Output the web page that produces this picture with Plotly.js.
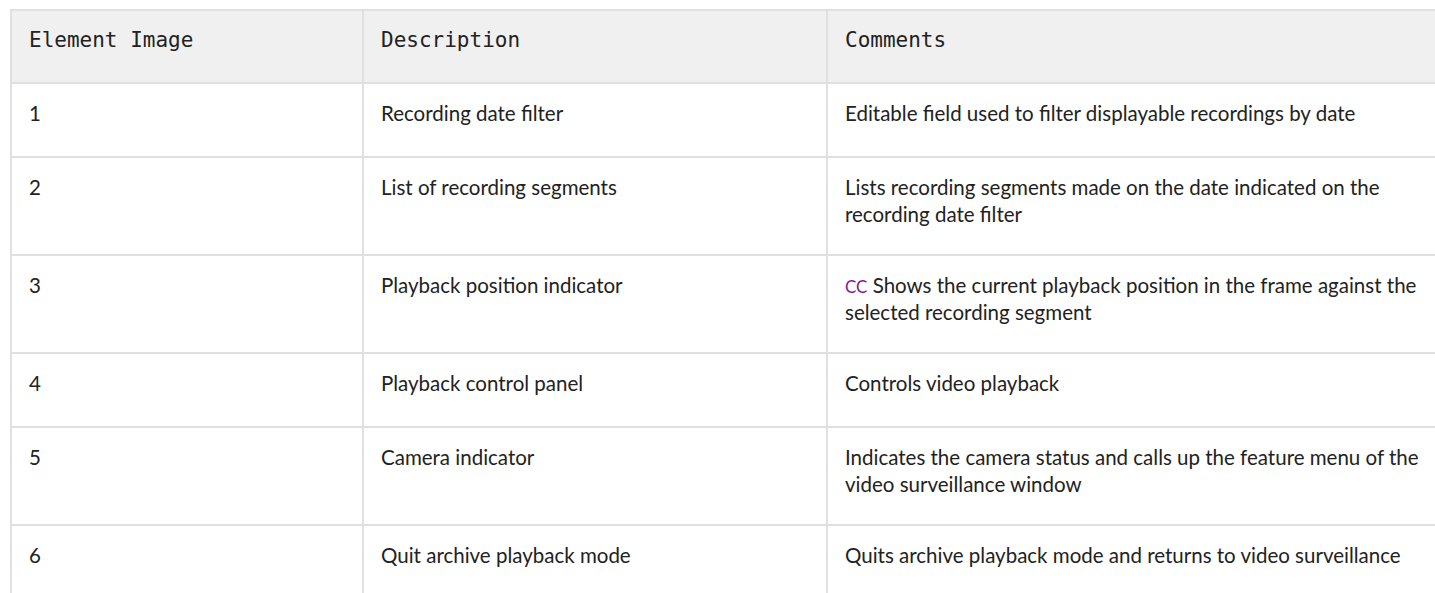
<!DOCTYPE html>
<html>
<head>
<meta charset="utf-8">
<script src="https://cdn.plot.ly/plotly-3.0.1.min.js"></script>
<style>
  html, body { margin: 0; padding: 0; overflow: hidden; background: #ffffff; }
  #chart { width: 1435px; height: 593px; }
</style>
</head>
<body>
<div id="chart"></div>
<script>
// ---- data ----
const headers = ['Element Image', 'Description', 'Comments'];
const elementNums = ['1', '2', '3', '4', '5', '6'];
const descriptions = [
  'Recording date filter',
  'List of recording segments',
  'Playback position indicator',
  'Playback control panel',
  'Camera indicator',
  'Quit archive playback mode'
];
const comments = [
  'Editable field used to filter displayable recordings by date',
  'Lists recording segments made on the date indicated on the<br>recording date filter',
  '<span style="color:#86198f;font-size:17px">CC</span> Shows the current playback position in the frame against the<br>selected recording segment',
  'Controls video playback',
  'Indicates the camera status and calls up the feature menu of the<br>video surveillance window',
  'Quits archive playback mode and returns to video surveillance'
];

// ---- styling / layout constants ----
const W = 1435, H = 593;
const tableLeft = 11, tableTop = 10;
const colWidths = [352, 464, 720];
const headerH = 73, baseRowH = 74, lineStep = 24;
const padX = 16, textTop = 16;
const headerFont = { family: 'DejaVu Sans Mono, monospace', size: 21, color: '#222222' };
const bodyFont = { family: 'Lato, Noto Sans, sans-serif', size: 20.5, color: '#222222' };
const borderColor = '#e0e0e0', headerFill = '#f0f0f0', cellFill = '#ffffff';

// column x positions
const colX = [tableLeft];
colWidths.forEach((w, i) => colX.push(colX[i] + w));

// rows
const columns = [elementNums, descriptions, comments];
const nLines = s => s.split('<br>').length;
const rowHeights = elementNums.map((_, r) => {
  const lines = Math.max(...columns.map(c => nLines(c[r])));
  return baseRowH + (lines - 1) * lineStep;
});
const rowY = [tableTop, tableTop + headerH];
rowHeights.forEach((h, i) => rowY.push(rowY[i + 1] + h));

const shapes = [];
const annotations = [];

function addCell(c, top, bottom, fill, text, font) {
  shapes.push({
    type: 'rect', xref: 'x', yref: 'y',
    x0: colX[c], x1: colX[c + 1], y0: top, y1: bottom,
    fillcolor: fill, line: { color: borderColor, width: 2 }, layer: 'below'
  });
  annotations.push({
    xref: 'x', yref: 'y', x: colX[c] + padX, y: top + textTop,
    xanchor: 'left', yanchor: 'top', align: 'left',
    text: text, showarrow: false, font: font
  });
}

headers.forEach((h, c) => addCell(c, rowY[0], rowY[1], headerFill, h, headerFont));
elementNums.forEach((_, r) => {
  columns.forEach((col, c) => addCell(c, rowY[r + 1], rowY[r + 2], cellFill, col[r], bodyFont));
});

const layout = {
  width: W, height: H,
  margin: { l: 0, r: 0, t: 0, b: 0 },
  paper_bgcolor: '#ffffff', plot_bgcolor: '#ffffff',
  xaxis: { range: [0, W], visible: false, fixedrange: true },
  yaxis: { range: [H, 0], visible: false, fixedrange: true },
  shapes: shapes,
  annotations: annotations,
  showlegend: false
};

Plotly.newPlot('chart', [{ x: [], y: [], type: 'scatter', mode: 'markers', hoverinfo: 'skip' }], layout,
  { displayModeBar: false, staticPlot: true });
</script>
</body>
</html>
